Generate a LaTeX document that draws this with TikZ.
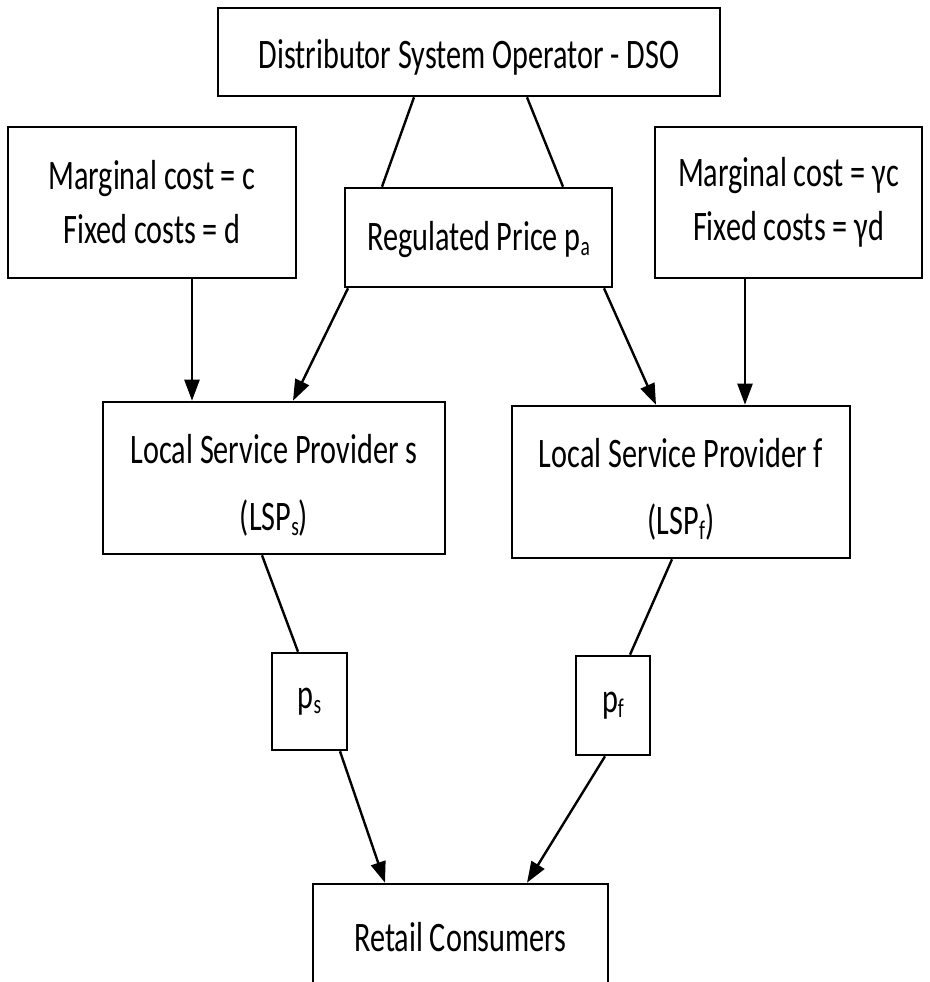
\documentclass[tikz,border=0pt]{standalone}
\usepackage{fontspec}
\setmainfont{Carlito}[FakeStretch=0.72]
\usetikzlibrary{arrows.meta}
\newcommand\mysub[1]{\raisebox{-0.12em}{\fontsize{27}{27}\selectfont #1}}
\newcommand\mystrut[1]{\rule{0pt}{#1}}
\begin{document}
\begin{tikzpicture}[x=1pt,y=-1pt,
  box/.style={draw, line width=2.6pt, inner sep=0pt, align=center,
    font=\fontsize{42}{54}\selectfont},
  conn/.style={line width=2.4pt},
  arr/.style={conn, -{Triangle[length=21pt,width=15pt]}}]
\useasboundingbox (0,0) rectangle (929,982);
\node[box, minimum width=502pt, minimum height=88pt] (dso) at (469,52) {\mystrut{40pt}Distributor System Operator - DSO};
\node[box, minimum width=288pt, minimum height=151pt] (costl) at (152,202.5) {Marginal cost = c\\Fixed costs = d};
\node[box, minimum width=267pt, minimum height=151pt] (costr) at (788.5,202.5) {Marginal cost = γc\\Fixed costs = γd};
\node[box, minimum width=267pt, minimum height=99pt] (reg) at (478.5,237.5) {\mystrut{34pt}Regulated Price p\mysub{a}};
\node[box, minimum width=342pt, minimum height=152pt] (lsps) at (274,478) {\mystrut{44pt}Local Service Provider s\\[13pt](LSP\mysub{s})};
\node[box, minimum width=338pt, minimum height=152pt] (lspf) at (681,482) {\mystrut{44pt}Local Service Provider f\\[13pt](LSP\mysub{f})};
\node[box, minimum width=75pt, minimum height=97pt] (ps) at (309.5,701.5) {p\mysub{s}};
\node[box, minimum width=74pt, minimum height=99pt] (pf) at (613,705.5) {p\mysub{f}};
\node[box, minimum width=295pt, minimum height=106pt] (ret) at (460.5,937) {Retail Consumers};
\draw[conn] ([xshift=-55pt]dso.south) -- ([xshift=-96.5pt]reg.north);
\draw[conn] ([xshift=58pt]dso.south) -- ([xshift=84.5pt]reg.north);
\draw[arr] ([xshift=-130.5pt]reg.south) -- ([xshift=19pt]lsps.north);
\draw[arr] ([xshift=125.5pt]reg.south) -- ([xshift=-25pt]lspf.north);
\draw[arr] ([xshift=40pt]costl.south) -- ([xshift=-82pt]lsps.north);
\draw[arr] ([xshift=-43.5pt]costr.south) -- ([xshift=64pt]lspf.north);
\draw[conn] ([xshift=-12pt]lsps.south) -- ([xshift=-11.5pt]ps.north);
\draw[conn] ([xshift=-9pt]lspf.south) -- ([xshift=17pt]pf.north);
\draw[arr] ([xshift=30.5pt]ps.south) -- ([xshift=-75.5pt]ret.north);
\draw[arr] ([xshift=-8pt]pf.south) -- ([xshift=66.5pt]ret.north);
\end{tikzpicture}
\end{document}
